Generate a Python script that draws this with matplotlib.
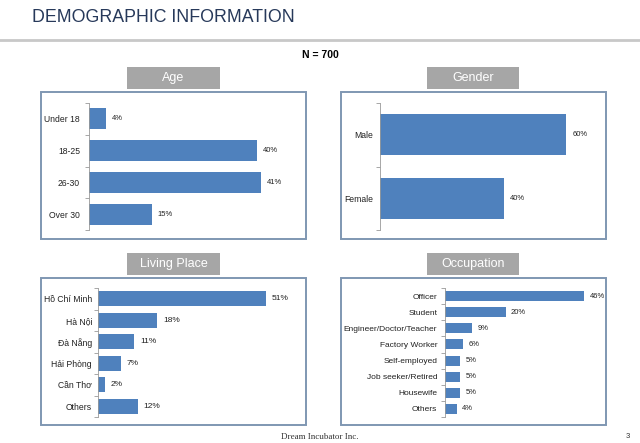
import matplotlib
matplotlib.use("Agg")
import matplotlib.pyplot as plt
from matplotlib.patches import Rectangle

plt.rcParams['font.family'] = ['Liberation Sans', 'DejaVu Sans']

W, H = 640, 443

age_labels = ["Under 18", "18-25", "26-30", "Over 30"]
age_values = [4, 40, 41, 15]

gender_labels = ["Male", "Female"]
gender_values = [60, 40]

place_labels = ["Hồ Chí Minh", "Hà Nội", "Đà Nẵng", "Hải Phòng", "Cần Thơ", "Others"]
place_values = [51, 18, 11, 7, 2, 12]

job_labels = ["Officer", "Student", "Engineer/Doctor/Teacher", "Factory Worker",
              "Self-employed", "Job seeker/Retired", "Housewife", "Others"]
job_values = [46, 20, 9, 6, 5, 5, 5, 4]

bar_color = "#4f81bd"
frame_color = "#7f97b2"
header_color = "#a6a6a6"


def fx(x):
    return x / W


def fy(y):
    return 1 - y / H


fig = plt.figure(figsize=(6.4, 4.43), dpi=100)

# page title and rule
fig.text(fx(32), fy(18), "DEMOGRAPHIC INFORMATION", fontsize=12.8, color="#27395a",
         va="center", ha="left")
fig.add_artist(plt.Line2D([0, 1], [fy(40), fy(40)], color="#c8c8c8", lw=2))
fig.text(0.5, fy(55), "N = 700", fontsize=7.5, fontweight="bold", ha="center", va="center")

# footer
fig.text(0.5, fy(437), "Dream Incubator Inc.", fontsize=6.5, family="Liberation Serif",
         ha="center", va="center", color="#333333")
fig.text(fx(628), fy(436), "3", fontsize=5.5, ha="center", va="center", color="#333333")


def header(x0, x1, y0, y1, text):
    fig.add_artist(Rectangle((fx(x0), fy(y1)), fx(x1 - x0), (y1 - y0) / H,
                             transform=fig.transFigure, color=header_color, lw=0))
    fig.text(fx((x0 + x1) / 2), fy((y0 + y1) / 2), text, color="white", fontsize=9,
             ha="center", va="center")


def frame(x0, x1, y0, y1):
    fig.add_artist(Rectangle((fx(x0), fy(y1)), fx(x1 - x0), (y1 - y0) / H,
                             transform=fig.transFigure, fill=False, ec=frame_color, lw=1.4))


def panel(x0, x1, y0, y1, labels, values, xmax, height, tick_fs, val_fs, off, pad):
    ax = fig.add_axes([fx(x0), fy(y1), fx(x1 - x0), (y1 - y0) / H])
    n = len(labels)
    pos = list(range(n))
    ax.barh(pos, values, height=height, color=bar_color)
    ax.set_ylim(n - 0.5, -0.5)
    ax.set_xlim(0, xmax)
    ax.set_yticks(pos)
    ax.set_yticklabels(labels, fontsize=tick_fs, color="#222222")
    ax.set_yticks([i - 0.5 for i in range(n + 1)], minor=True)
    ax.tick_params(axis="y", which="major", length=0, pad=pad)
    ax.tick_params(axis="y", which="minor", length=3, color="#999999", width=0.6)
    ax.set_xticks([])
    for s in ["top", "right", "bottom"]:
        ax.spines[s].set_visible(False)
    ax.spines["left"].set_color("#999999")
    ax.spines["left"].set_linewidth(0.6)
    for i, v in enumerate(values):
        ax.text(v + off, i, f"{v}%", fontsize=val_fs, va="center", ha="left", color="#222222")
    return ax


# Age
header(127, 220, 67, 89, "Age")
frame(41, 306, 92, 239)
panel(89, 299, 103, 230, age_labels, age_values, 50, 0.66, 6.2, 5.5, 1.4, 6.5)

# Gender
header(427, 519, 67, 89, "Gender")
frame(341, 606, 92, 239)
panel(380, 600, 103, 230, gender_labels, gender_values, 220 / 3.1, 0.65, 6.2, 5.5, 2.0, 5)

# Living place
header(127, 220, 253, 275, "Living Place")
frame(41, 306, 278, 425)
panel(98, 299, 288, 417, place_labels, place_values, 201 / 3.3, 0.7, 6.2, 6, 1.7, 4.3)

# Occupation
header(427, 519, 253, 275, "Occupation")
frame(341, 606, 278, 425)
panel(445, 600, 288, 417, job_labels, job_values, 155 / 3.03, 0.62, 6, 5.5, 1.7, 5.5)

fig.savefig("out.png", dpi=100)
